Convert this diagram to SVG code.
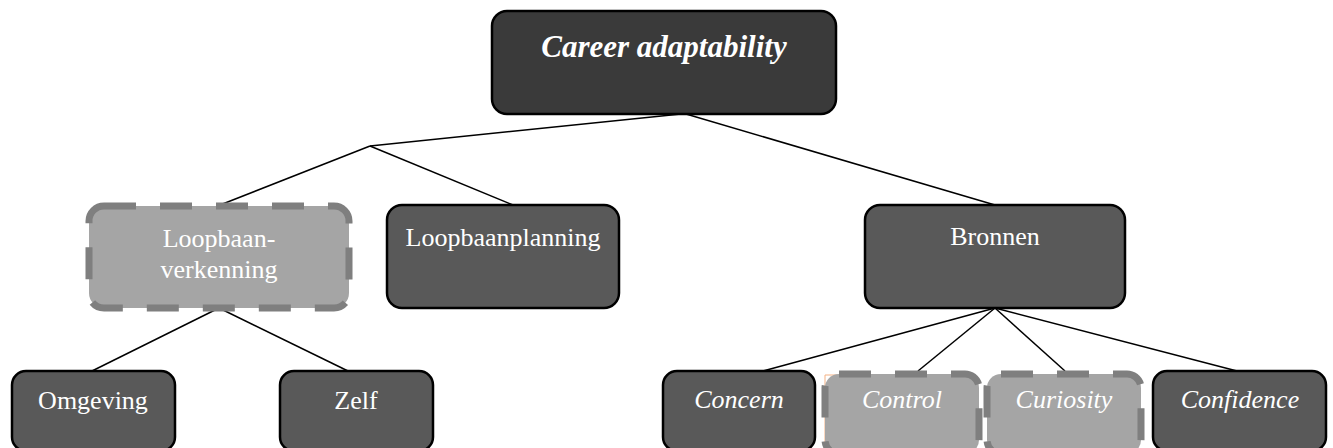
<svg xmlns="http://www.w3.org/2000/svg" width="1333" height="448" viewBox="0 0 1333 448">
<style>
.dark{fill:#595959;stroke:#000;stroke-width:2.5}
.top{fill:#3a3a3a;stroke:#000;stroke-width:2.5}
.light{fill:#a5a5a5;stroke:#7f7f7f;stroke-width:7;stroke-dasharray:32 24}
.t{font-family:"Liberation Serif","Times New Roman",serif;font-size:26px;fill:#fff;text-anchor:middle}
.i{font-style:italic}
.conn line{stroke:#000;stroke-width:1.5}
</style>
<rect width="1333" height="448" fill="#fff"/>
<g class="conn" id="connectors">
<line x1="681" y1="114" x2="370" y2="146"/>
<line x1="686" y1="114" x2="995" y2="205"/>
<line x1="370" y1="146" x2="220" y2="205"/>
<line x1="370" y1="146" x2="513" y2="205"/>
<line x1="219" y1="308" x2="92" y2="371"/>
<line x1="219" y1="308" x2="348" y2="371"/>
<line x1="995" y1="308" x2="763" y2="371"/>
<line x1="995" y1="308" x2="918" y2="371"/>
<line x1="995" y1="308" x2="1065" y2="371"/>
<line x1="995" y1="308" x2="1237" y2="371"/>
</g>
<g id="career">
<rect class="top" x="492" y="11" width="344" height="103" rx="15"/>
<text class="t i" x="664" y="57" style="font-weight:bold;font-size:31px">Career adaptability</text>
</g>
<g id="verkenning">
<rect class="light" x="89" y="206" width="260" height="102" rx="15"/>
<text class="t" x="219" y="247">Loopbaan-</text>
<text class="t" x="219" y="278">verkenning</text>
</g>
<g id="planning">
<rect class="dark" x="387" y="205" width="232" height="103" rx="15"/>
<text class="t" x="503" y="246">Loopbaanplanning</text>
</g>
<g id="bronnen">
<rect class="dark" x="865" y="205" width="260" height="103" rx="15"/>
<text class="t" x="995" y="245">Bronnen</text>
</g>
<g id="omgeving">
<rect class="dark" x="12" y="371" width="163" height="80" rx="14"/>
<text class="t" x="93" y="409">Omgeving</text>
</g>
<g id="zelf">
<rect class="dark" x="280" y="371" width="153" height="80" rx="14"/>
<text class="t" x="356" y="409">Zelf</text>
</g>
<g id="concern">
<rect class="dark" x="663" y="371" width="152" height="80" rx="14"/>
<text class="t i" x="739" y="408">Concern</text>
</g>
<g id="control">
<path d="M825 451 V375 H965" fill="none" stroke="#f4b183" stroke-width="1"/>
<rect class="light" x="825" y="374" width="154" height="80" rx="14"/>
<text class="t i" x="902" y="408">Control</text>
</g>
<g id="curiosity">
<rect class="light" x="987" y="374" width="154" height="80" rx="14"/>
<text class="t i" x="1064" y="408">Curiosity</text>
</g>
<g id="confidence">
<rect class="dark" x="1153" y="371" width="173" height="80" rx="14"/>
<text class="t i" x="1240" y="408">Confidence</text>
</g>
</svg>
